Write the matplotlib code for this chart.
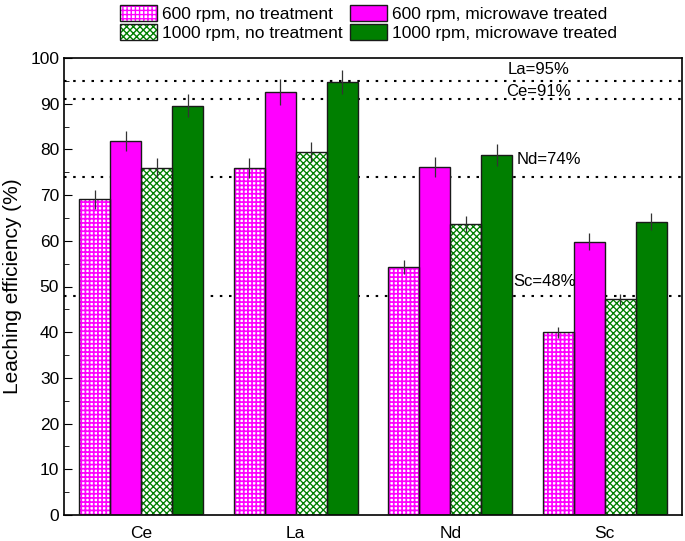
"""Leaching efficiency of rare earth elements: grouped bars with hatched controls."""

import matplotlib

matplotlib.use("Agg")
import matplotlib.pyplot as plt
import numpy as np
from matplotlib.legend_handler import HandlerTuple
from matplotlib.patches import Patch
from matplotlib.ticker import MultipleLocator

elements = ["Ce", "La", "Nd", "Sc"]
series_labels = [
    "600 rpm, no treatment",
    "600 rpm, microwave treated",
    "1000 rpm, no treatment",
    "1000 rpm, microwave treated",
]
rpm600_none = [69.1, 75.9, 54.3, 40.0]
rpm600_mw = [81.9, 92.5, 76.2, 59.8]
rpm1000_none = [75.9, 79.5, 63.7, 47.2]
rpm1000_mw = [89.6, 94.7, 78.8, 64.2]
err600_none = [2.1, 2.2, 1.5, 1.2]
err600_mw = [2.2, 2.8, 2.2, 1.8]
err1000_none = [2.2, 2.2, 1.8, 1.2]
err1000_mw = [2.6, 2.6, 2.4, 1.9]
ref_values = [95, 91, 74, 48]
ref_labels = ["La=95%", "Ce=91%", "Nd=74%", "Sc=48%"]

MAGENTA = "#ff00ff"
GREEN = "#007f00"

plt.rcParams.update({"font.family": ["Liberation Sans", "DejaVu Sans"]})

fig = plt.figure(figsize=(6.85, 5.41), dpi=100)
ax = fig.add_axes([64 / 685, 26 / 541, 618 / 685, 457 / 541])

x = np.arange(len(elements))
w = 0.2
# values, errors, face, hatch colour, hatch, hatch linewidth
styles = [
    (rpm600_none, err600_none, "white", MAGENTA, "++++", 1.25),
    (rpm600_mw, err600_mw, MAGENTA, MAGENTA, None, 1.0),
    (rpm1000_none, err1000_none, "white", GREEN, "xxxxx", 0.95),
    (rpm1000_mw, err1000_mw, GREEN, GREEN, None, 1.0),
]
leg_parts = []
for i, (vals, errs, face, hcol, hatch, hlw) in enumerate(styles):
    pos = x + (i - 1.5) * w
    with plt.rc_context({"hatch.linewidth": hlw}):
        ax.bar(pos, vals, w, color=face, edgecolor=hcol, hatch=hatch, linewidth=0, zorder=2)
        fill = Patch(facecolor=face, edgecolor=hcol, hatch=hatch, linewidth=0)
    ax.bar(pos, vals, w, fill=False, edgecolor="#1a1a1a", linewidth=1.0, zorder=3)
    ax.errorbar(pos, vals, yerr=errs, fmt="none", ecolor="#333333", elinewidth=0.9,
                capsize=0, zorder=4)
    leg_parts.append((fill, Patch(fill=False, edgecolor="#1a1a1a", linewidth=1.0)))

# reference levels
for v in ref_values:
    ax.axhline(v, color="black", linestyle=(0, (1.2, 3.2)), linewidth=1.5, zorder=1)
ax.text(2.57, 97.4, ref_labels[0], fontsize=12, ha="center", va="center")
ax.text(2.57, 92.6, ref_labels[1], fontsize=12, ha="center", va="center")
ax.text(2.43, 77.7, ref_labels[2], fontsize=12, ha="left", va="center")
ax.text(2.41, 51.0, ref_labels[3], fontsize=12, ha="left", va="center")

ax.set_xlim(-0.5, 3.5)
ax.set_ylim(0, 100)
ax.set_xticks(x)
ax.set_xticklabels(elements, fontsize=12.5)
ax.tick_params(axis="x", length=0, pad=8)
ax.yaxis.set_major_locator(MultipleLocator(10))
ax.yaxis.set_minor_locator(MultipleLocator(5))
ax.tick_params(axis="y", which="major", direction="in", length=6, labelsize=12.5)
ax.tick_params(axis="y", which="minor", direction="in", length=3.5)
ax.set_ylabel("Leaching efficiency (%)", fontsize=15, labelpad=6)
for s in ax.spines.values():
    s.set_linewidth(1.2)

# legend: column-major order
order = [0, 2, 1, 3]
fig.legend(
    [leg_parts[j] for j in order],
    [series_labels[j] for j in order],
    handler_map={tuple: HandlerTuple(ndivide=1)},
    loc="upper left",
    bbox_to_anchor=(120 / 685, 1 - 5 / 541),
    borderpad=0,
    borderaxespad=0,
    ncol=2,
    frameon=False,
    fontsize=12.5,
    handlelength=2.13,
    handleheight=1.0,
    handletextpad=0.29,
    columnspacing=0.4,
    labelspacing=0.15,
)

fig.savefig("out.png", dpi=100)
